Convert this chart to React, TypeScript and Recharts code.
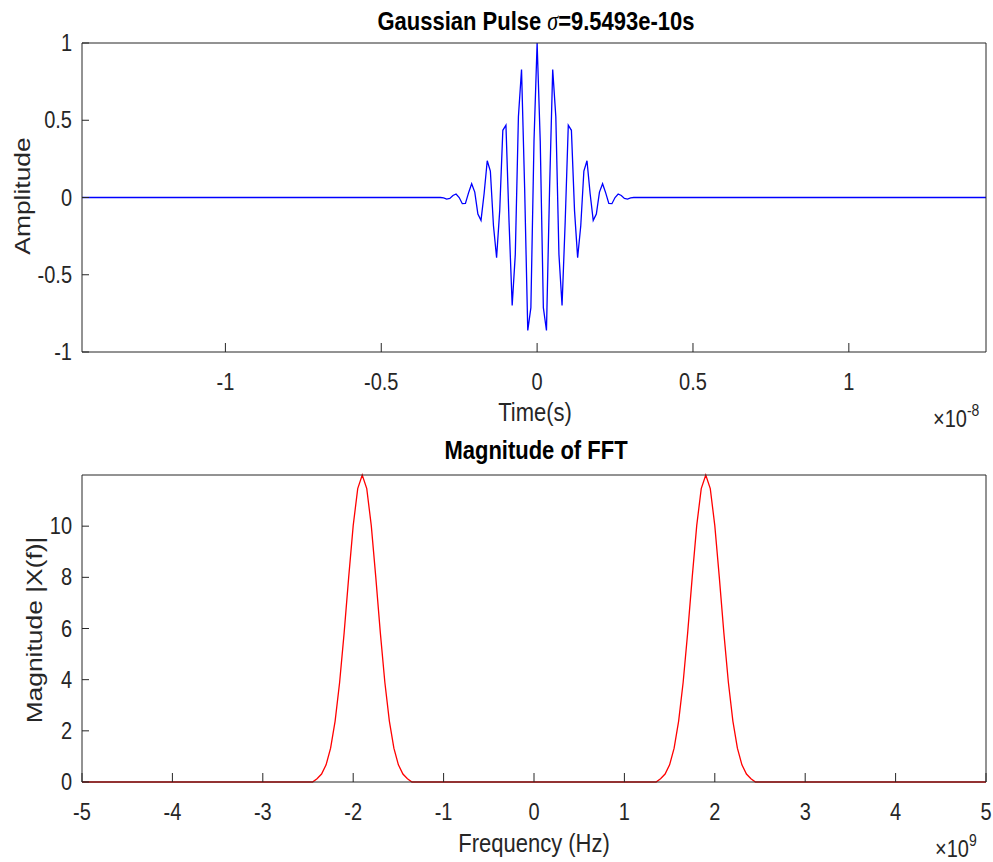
import { LineChart, Line, XAxis, YAxis } from "recharts";

// time axis in units of 1e-8 s (sample step 1e-10 s)
const pulseTime = [
  -1.46, -0.31,
  -0.3, -0.29, -0.28, -0.27, -0.26, -0.25, -0.24, -0.23, -0.22, -0.21,
  -0.2, -0.19, -0.18, -0.17, -0.16, -0.15, -0.14, -0.13, -0.12, -0.11,
  -0.1, -0.09, -0.08, -0.07, -0.06, -0.05, -0.04, -0.03, -0.02, -0.01,
  0,
  0.01, 0.02, 0.03, 0.04, 0.05, 0.06, 0.07, 0.08, 0.09, 0.1,
  0.11, 0.12, 0.13, 0.14, 0.15, 0.16, 0.17, 0.18, 0.19, 0.2,
  0.21, 0.22, 0.23, 0.24, 0.25, 0.26, 0.27, 0.28, 0.29, 0.3,
  0.31, 1.44,
];
const pulseAmp = [
  0, 0,
  -0.002, -0.01, -0.006, 0.013, 0.023, 0.0, -0.04, -0.038, 0.03, 0.089,
  0.035, -0.107, -0.148, 0.026, 0.238, 0.171, -0.183, -0.389, -0.085, 0.435,
  0.468, -0.16, -0.699, -0.368, 0.523, 0.829, 0.058, -0.861, -0.713, 0.366,
  1.0,
  0.366, -0.713, -0.861, 0.058, 0.829, 0.523, -0.368, -0.699, -0.16, 0.468,
  0.435, -0.085, -0.389, -0.183, 0.171, 0.238, 0.026, -0.148, -0.107, 0.035,
  0.089, 0.03, -0.038, -0.04, 0.0, 0.023, 0.013, -0.006, -0.01, -0.002,
  0, 0,
];

// frequency axis in units of 1e9 Hz
const fftFreq = [
  -5,
  -2.45, -2.4, -2.35, -2.3, -2.25, -2.2, -2.15, -2.1, -2.05, -2.0, -1.95, -1.9,
  -1.85, -1.8, -1.75, -1.7, -1.65, -1.6, -1.55, -1.5, -1.45, -1.4, -1.35,
  1.35, 1.4, 1.45, 1.5, 1.55, 1.6, 1.65, 1.7, 1.75, 1.8, 1.85, 1.9,
  1.95, 2.0, 2.05, 2.1, 2.15, 2.2, 2.25, 2.3, 2.35, 2.4, 2.45,
  5,
];
const fftMag = [
  0,
  0, 0.13, 0.31, 0.67, 1.32, 2.38, 3.9, 5.84, 8.0, 10.02, 11.47, 12.0,
  11.47, 10.02, 8.0, 5.84, 3.9, 2.38, 1.32, 0.67, 0.31, 0.13, 0,
  0, 0.13, 0.31, 0.67, 1.32, 2.38, 3.9, 5.84, 8.0, 10.02, 11.47, 12.0,
  11.47, 10.02, 8.0, 5.84, 3.9, 2.38, 1.32, 0.67, 0.31, 0.13, 0,
  0,
];

const timeTicks = [-1, -0.5, 0, 0.5, 1];
const ampTicks = [-1, -0.5, 0, 0.5, 1];
const freqTicks = [-5, -4, -3, -2, -1, 0, 1, 2, 3, 4, 5];
const magTicks = [0, 2, 4, 6, 8, 10];

const pulseData = pulseTime.map((t, i) => ({ t, v: pulseAmp[i] }));
const fftData = fftFreq.map((f, i) => ({ f, v: fftMag[i] }));

const FONT = '"Liberation Sans", Arial, Helvetica, sans-serif';
const AX = "#262626";
const STRETCH = 1.2; // text in the picture is a bit taller than wide

const XTick = (props: any) => {
  const { x, y, payload } = props;
  return (
    <text
      transform={`translate(${x},${y}) scale(1,${STRETCH})`}
      textAnchor="middle"
      dominantBaseline="central"
      fontSize={20}
      fontFamily={FONT}
      fill={AX}
    >
      {String(payload.value)}
    </text>
  );
};

const YTick = (props: any) => {
  const { x, y, payload } = props;
  return (
    <text
      transform={`translate(${x},${y}) scale(1,${STRETCH})`}
      textAnchor="end"
      dominantBaseline="central"
      fontSize={20}
      fontFamily={FONT}
      fill={AX}
    >
      {String(payload.value)}
    </text>
  );
};

const axisLine = { stroke: AX, strokeWidth: 1 };
const tickLine = { stroke: AX, strokeWidth: 1 };

function Label({ x, y, children, size = 22, bold = false, anchor = "middle" }: any) {
  return (
    <text
      transform={`translate(${x},${y}) scale(1,${STRETCH})`}
      textAnchor={anchor}
      fontSize={size}
      fontWeight={bold ? "bold" : "normal"}
      fontFamily={FONT}
      fill={bold ? "#000" : AX}
    >
      {children}
    </text>
  );
}

function VLabel({ x, y, children }: any) {
  return (
    <text
      transform={`translate(${x},${y}) rotate(-90) scale(${STRETCH},1)`}
      textAnchor="middle"
      dominantBaseline="central"
      fontSize={22}
      fontFamily={FONT}
      fill={AX}
    >
      {children}
    </text>
  );
}

export default function App() {
  return (
    <div style={{ position: "absolute", left: 0, top: 0, width: 993, height: 862, background: "#fff" }}>
      <div style={{ position: "absolute", left: 0, top: 0 }}>
        <LineChart width={993} height={440} data={pulseData} margin={{ top: 13, right: 0, bottom: 58, left: 0 }}>
          <XAxis
            dataKey="t"
            type="number"
            domain={[-1.46, 1.44]}
            ticks={timeTicks}
            allowDataOverflow
            height={30}
            axisLine={axisLine}
            tickLine={tickLine}
            tickSize={-9}
            tickMargin={39}
            tick={XTick}
          />
          <XAxis
            xAxisId="top"
            orientation="top"
            dataKey="t"
            type="number"
            domain={[-1.46, 1.44]}
            ticks={timeTicks}
            allowDataOverflow
            height={30}
            axisLine={axisLine}
            tickLine={tickLine}
            tickSize={-9}
            tick={false}
          />
          <YAxis
            type="number"
            domain={[-1, 1]}
            ticks={ampTicks}
            width={82}
            axisLine={axisLine}
            tickLine={tickLine}
            tickSize={-7}
            tickMargin={17}
            tick={YTick}
          />
          <YAxis
            yAxisId="right"
            orientation="right"
            type="number"
            domain={[-1, 1]}
            ticks={ampTicks}
            width={7}
            axisLine={axisLine}
            tickLine={tickLine}
            tickSize={-7}
            tick={false}
          />
          <Line
            xAxisId="top"
            yAxisId="right"
            dataKey="v"
            stroke="none"
            dot={false}
            isAnimationActive={false}
          />
          <Line
            type="linear"
            dataKey="v"
            stroke="#0000ff"
            strokeWidth={1.3}
            dot={false}
            isAnimationActive={false}
          />
        </LineChart>
      </div>
      <div style={{ position: "absolute", left: 0, top: 440 }}>
        <LineChart width={993} height={422} data={fftData} margin={{ top: 5, right: 0, bottom: 50, left: 0 }}>
          <XAxis
            dataKey="f"
            type="number"
            domain={[-5, 5]}
            ticks={freqTicks}
            height={30}
            axisLine={axisLine}
            tickLine={tickLine}
            tickSize={-9}
            tickMargin={39}
            tick={XTick}
          />
          <XAxis
            xAxisId="top"
            orientation="top"
            dataKey="f"
            type="number"
            domain={[-5, 5]}
            ticks={freqTicks}
            height={30}
            axisLine={axisLine}
            tickLine={tickLine}
            tickSize={-9}
            tick={false}
          />
          <YAxis
            type="number"
            domain={[0, 12]}
            ticks={magTicks}
            width={82}
            axisLine={axisLine}
            tickLine={tickLine}
            tickSize={-7}
            tickMargin={17}
            tick={YTick}
          />
          <YAxis
            yAxisId="right"
            orientation="right"
            type="number"
            domain={[0, 12]}
            ticks={magTicks}
            width={7}
            axisLine={axisLine}
            tickLine={tickLine}
            tickSize={-7}
            tick={false}
          />
          <Line
            xAxisId="top"
            yAxisId="right"
            dataKey="v"
            stroke="none"
            dot={false}
            isAnimationActive={false}
          />
          <Line
            type="linear"
            dataKey="v"
            stroke="#ff0000"
            strokeWidth={1.3}
            dot={false}
            isAnimationActive={false}
          />
        </LineChart>
      </div>
      <svg width={993} height={862} style={{ position: "absolute", left: 0, top: 0, pointerEvents: "none" }}>
        <Label x={536} y={30} bold>
          <tspan>Gaussian Pulse </tspan>
          <tspan fontStyle="italic" fontWeight="normal" fontFamily='"Liberation Serif", serif'>σ</tspan>
          <tspan>=9.5493e-10s</tspan>
        </Label>
        <VLabel x={22} y={196}>Amplitude</VLabel>
        <Label x={535} y={421}>Time(s)</Label>
        <Label x={933} y={427} size={20} anchor="start">
          ×10<tspan dy={-9} fontSize={14}>-8</tspan>
        </Label>

        <Label x={536} y={459} bold>Magnitude of FFT</Label>
        <VLabel x={34} y={630}>Magnitude |X(f)|</VLabel>
        <Label x={534} y={852}>Frequency (Hz)</Label>
        <Label x={935} y={857} size={20} anchor="start">
          ×10<tspan dy={-9} fontSize={14}>9</tspan>
        </Label>
      </svg>
    </div>
  );
}
